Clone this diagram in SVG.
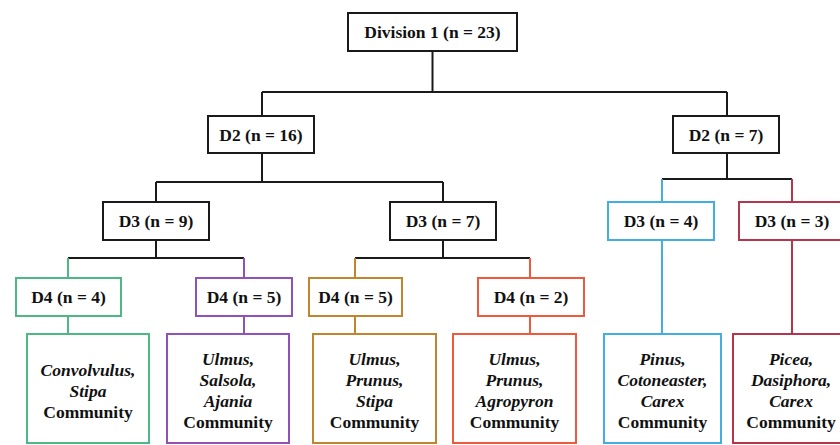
<svg xmlns="http://www.w3.org/2000/svg" width="840" height="445" viewBox="0 0 840 445">
<style>
  .box { fill: #fff; stroke-width: 2; }
  .k { stroke: #1a1a1a; }
  .ln { fill: none; stroke-width: 2; }
  text { font-family: "Liberation Serif", "Times New Roman", serif; font-weight: bold; font-size: 17.5px; fill: #111; text-anchor: middle; }
  .i { font-style: italic; }
  .green { stroke: #4db883; }
  .purple { stroke: #9152b8; }
  .orange { stroke: #c0862e; }
  .red { stroke: #ef5a3c; }
  .blue { stroke: #45aee0; }
  .crimson { stroke: #b3364d; }
</style>
<rect width="840" height="445" fill="#fff"/>
<g id="connectors">
  <path class="ln k" d="M432.5 51 V92 M262 92 H727 M262 92 V116 M727 92 V116"/>
  <path class="ln k" d="M262 153 V182 M156 182 H443 M156 182 V202 M443 182 V202"/>
  <path class="ln k" d="M727 153 V179 M662 179 H792"/>
  <path class="ln blue" d="M662 179 V202 M662 240 V334"/>
  <path class="ln crimson" d="M792 179 V202 M792 240 V334"/>
  <path class="ln k" d="M156 240 V258 M68 258 H244"/>
  <path class="ln green" d="M68 258 V278 M68 316 V334"/>
  <path class="ln purple" d="M244 258 V278 M244 316 V334"/>
  <path class="ln k" d="M443 240 V258 M355 258 H530"/>
  <path class="ln orange" d="M355 258 V278 M355 316 V334"/>
  <path class="ln red" d="M530 258 V278 M530 316 V334"/>
</g>
<g id="div1">
  <rect class="box k" x="348" y="13" width="169" height="38"/>
  <text x="432.5" y="38">Division 1 (n = 23)</text>
</g>
<g id="d2a">
  <rect class="box k" x="208" y="116" width="106" height="37"/>
  <text x="261" y="140.5">D2 (n = 16)</text>
</g>
<g id="d2b">
  <rect class="box k" x="673" y="116" width="106" height="37"/>
  <text x="726" y="140.5">D2 (n = 7)</text>
</g>
<g id="d3a">
  <rect class="box k" x="103" y="202" width="106" height="38"/>
  <text x="156" y="227">D3 (n = 9)</text>
</g>
<g id="d3b">
  <rect class="box k" x="390" y="202" width="106" height="38"/>
  <text x="443" y="227">D3 (n = 7)</text>
</g>
<g id="d3c">
  <rect class="box blue" x="608" y="202" width="106" height="38"/>
  <text x="661" y="227">D3 (n = 4)</text>
</g>
<g id="d3d">
  <rect class="box crimson" x="739" y="202" width="106" height="38"/>
  <text x="792" y="227">D3 (n = 3)</text>
</g>
<g id="d4a">
  <rect class="box green" x="16" y="278" width="105" height="38"/>
  <text x="68.5" y="303">D4 (n = 4)</text>
</g>
<g id="d4b">
  <rect class="box purple" x="196" y="278" width="96" height="38"/>
  <text x="244" y="303">D4 (n = 5)</text>
</g>
<g id="d4c">
  <rect class="box orange" x="309" y="278" width="93" height="38"/>
  <text x="355.5" y="303">D4 (n = 5)</text>
</g>
<g id="d4d">
  <rect class="box red" x="478" y="278" width="106" height="38"/>
  <text x="531" y="303">D4 (n = 2)</text>
</g>
<g id="c1">
  <rect class="box green" x="27" y="334" width="122" height="109"/>
  <text class="i" x="88" y="376">Convolvulus,</text>
  <text class="i" x="88" y="397">Stipa</text>
  <text x="88" y="418">Community</text>
</g>
<g id="c2">
  <rect class="box purple" x="167" y="334" width="122" height="109"/>
  <text class="i" x="228" y="365">Ulmus,</text>
  <text class="i" x="228" y="386">Salsola,</text>
  <text class="i" x="228" y="407">Ajania</text>
  <text x="228" y="428">Community</text>
</g>
<g id="c3">
  <rect class="box orange" x="313" y="334" width="123" height="109"/>
  <text class="i" x="374.5" y="365">Ulmus,</text>
  <text class="i" x="374.5" y="386">Prunus,</text>
  <text class="i" x="374.5" y="407">Stipa</text>
  <text x="374.5" y="428">Community</text>
</g>
<g id="c4">
  <rect class="box red" x="453" y="334" width="123" height="109"/>
  <text class="i" x="514.5" y="365">Ulmus,</text>
  <text class="i" x="514.5" y="386">Prunus,</text>
  <text class="i" x="514.5" y="407">Agropyron</text>
  <text x="514.5" y="428">Community</text>
</g>
<g id="c5">
  <rect class="box blue" x="604" y="334" width="117" height="109"/>
  <text class="i" x="662.5" y="365">Pinus,</text>
  <text class="i" x="662.5" y="386">Cotoneaster,</text>
  <text class="i" x="662.5" y="407">Carex</text>
  <text x="662.5" y="428">Community</text>
</g>
<g id="c6">
  <rect class="box crimson" x="733" y="334" width="118" height="109"/>
  <text class="i" x="791" y="365">Picea,</text>
  <text class="i" x="791" y="386">Dasiphora,</text>
  <text class="i" x="791" y="407">Carex</text>
  <text x="791" y="428">Community</text>
</g>
</svg>
